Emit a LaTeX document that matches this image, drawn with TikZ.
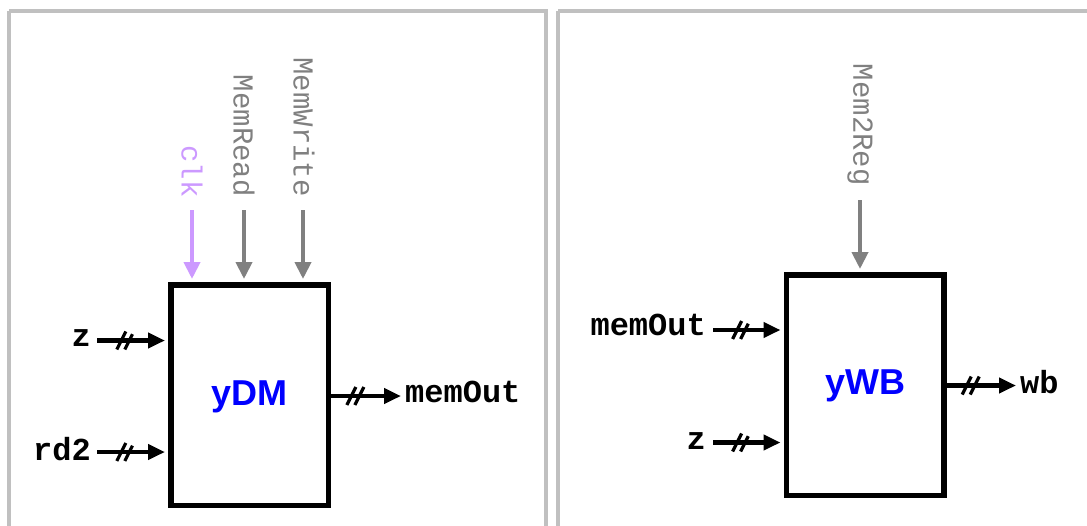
\documentclass[tikz,border=0pt]{standalone}
\usepackage{fontspec}
\newfontfamily\monofont{Liberation Mono}
\newfontfamily\headfont{Liberation Sans}
\usetikzlibrary{arrows.meta}
\definecolor{panelgray}{RGB}{192,192,192}
\definecolor{ctrlgray}{RGB}{128,128,128}
\definecolor{clkpurple}{RGB}{204,153,255}
\definecolor{titleblue}{RGB}{0,0,255}
\tikzset{
  panel/.style={draw=panelgray,line width=4pt},
  block/.style={draw=black,line width=5.5pt,minimum width=157.5pt,minimum height=220.5pt,inner sep=0pt},
  title/.style={anchor=base,inner sep=0pt,text=titleblue,font=\headfont\bfseries\fontsize{36}{36}\selectfont},
  sig/.style={inner sep=0pt,font=\monofont\bfseries\fontsize{32}{32}\selectfont},
  ctrltext/.style={rotate=-90,anchor=east,inner sep=0pt,text=ctrlgray,font=\monofont\fontsize{29}{29}\selectfont},
  ctrlarrow/.style={draw=ctrlgray,line width=4pt,-{Triangle[length=17pt,width=16pt]},shorten >=3pt},
  bus/.style={line width=4.5pt,-{Triangle[length=17pt,width=15pt]}},
  busin/.style={bus,shorten >=3pt},
  busmark/.pic={\draw[line width=3.2pt,-] (-10,9) -- (-1,-9) (-2,9) -- (7,-9);},
}
\begin{document}
\begin{tikzpicture}[x=1pt,y=-1pt]
\useasboundingbox (0,0) rectangle (1087,525);
% panels
\draw[panel] (9,11) -- (546,11) -- (546,540) (9,540) -- (9,11);
\draw[panel] (558,11.4) -- (1100,11.4) (558,540) -- (558,11.4);

% ---------- left: yDM ----------
\node[block] (dm) at (249.5,395) {};
\node[title] (dmt) at (249.5,405) {yDM};

\coordinate (dmz) at (97,340.5);
\coordinate (dmrd) at (97,452);
\node[sig,anchor=base east] (dmzl) at (91,346.5) {z};
\node[sig,anchor=base east] (dmrdl) at (91,460) {rd2};
\draw[busin] (dmz) -- pic[pos=0.42]{busmark} (dmz -| dm.west);
\draw[busin] (dmrd) -- pic[pos=0.42]{busmark} (dmrd -| dm.west);

\coordinate (dmo) at (401,396);
\draw[bus] (dm.east |- dmo) -- pic[pos=0.37]{busmark} (dmo);
\node[sig,anchor=base west] (dmol) at (405,402.5) {memOut};

\node[ctrltext,text=clkpurple] (clkl) at (192,198) {clk};
\node[ctrltext] (mrl) at (244,197) {MemRead};
\node[ctrltext] (mwl) at (304,197) {MemWrite};
\coordinate (clks) at (192,210);
\coordinate (mrs) at (244,210);
\coordinate (mws) at (303,210);
\draw[ctrlarrow,draw=clkpurple] (clks) -- (clks |- dm.north);
\draw[ctrlarrow] (mrs) -- (mrs |- dm.north);
\draw[ctrlarrow] (mws) -- (mws |- dm.north);

% ---------- right: yWB ----------
\node[block] (wb) at (865,385) {};
\node[title] (wbt) at (865,394) {yWB};

\coordinate (wbm) at (713,330);
\coordinate (wbz) at (713,442.5);
\node[sig,anchor=base east] (wbml) at (706,335.5) {memOut};
\node[sig,anchor=base east] (wbzl) at (706,449.5) {z};
\draw[busin] (wbm) -- pic[pos=0.42]{busmark} (wbm -| wb.west);
\draw[busin] (wbz) -- pic[pos=0.42]{busmark} (wbz -| wb.west);

\coordinate (wbo) at (1016,385.5);
\draw[bus] (wb.east |- wbo) -- pic[pos=0.37]{busmark} (wbo);
\node[sig,anchor=base west] (wbol) at (1020,393.5) {wb};

\node[ctrltext] (m2r) at (860,186) {Mem2Reg};
\coordinate (m2rs) at (860,200);
\draw[ctrlarrow] (m2rs) -- (m2rs |- wb.north);
\end{tikzpicture}
\end{document}
